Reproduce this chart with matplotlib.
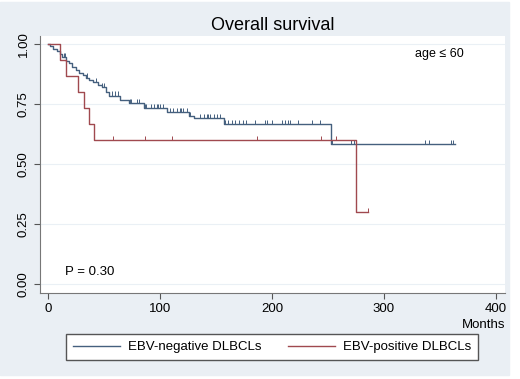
import numpy as np
import matplotlib.pyplot as plt
from matplotlib.patches import Rectangle

plt.rcParams['font.family'] = ['Liberation Sans', 'DejaVu Sans']

# EBV-negative: step times (months) and survival after each step
neg_t = [0, 2, 5, 8, 11, 13, 16, 19, 22, 25, 28, 31, 34, 37, 40, 45, 48, 52, 55,
         64, 72, 86, 106, 126, 130, 157, 253, 363]
neg_s = [1.0, 0.99, 0.98, 0.97, 0.96, 0.945, 0.93, 0.92, 0.905, 0.89, 0.88, 0.87,
         0.86, 0.85, 0.84, 0.83, 0.82, 0.80, 0.785, 0.767, 0.754, 0.733, 0.717,
         0.70, 0.69, 0.667, 0.583, 0.583]
neg_cens = [14, 15, 35, 43, 48, 50, 52, 57, 60, 63, 73, 74, 80, 81, 87, 88, 92, 95,
            97, 98, 100, 103, 106, 109, 112, 115, 118, 119, 121, 124, 127, 136,
            139, 142, 143, 145, 148, 151, 154, 158, 161, 164, 167, 171, 174, 177,
            185, 194, 196, 200, 209, 212, 214, 216, 223, 236, 243, 254, 271, 273,
            337, 340, 360, 362]

# EBV-positive
pos_t = [0, 11, 16, 27, 32, 37, 41, 275, 286]
pos_s = [1.0, 0.933, 0.867, 0.80, 0.733, 0.667, 0.60, 0.30, 0.30]
pos_cens = [58, 87, 111, 187, 244, 257, 286]

labels = ['EBV-negative DLBCLs', 'EBV-positive DLBCLs']
colors = ['#45607e', '#a0494f']

fig = plt.figure(figsize=(5.2, 3.79), dpi=100, facecolor='white')
fig.patches.append(Rectangle((0, 4 / 379), 509 / 520, 1 - 6 / 379,
                             transform=fig.transFigure, color='#eaeff4', zorder=-10))
ax = fig.add_axes([40 / 520, 1 - 293 / 379, 465 / 520, 257 / 379])
ax.set_facecolor('white')

handles = []
for t, s, cens, c, lab in [(neg_t, neg_s, neg_cens, colors[0], labels[0]),
                           (pos_t, pos_s, pos_cens, colors[1], labels[1])]:
    h, = ax.step(t, s, where='post', color=c, lw=1.0, label=lab)
    handles.append(h)
    idx = np.searchsorted(t, cens, side='right') - 1
    sv = np.array(s)[idx]
    ax.vlines(cens, sv, sv + 0.018, color=c, lw=0.7)

ax.set_xlim(-7, 408)
ax.set_ylim(-0.0375, 1.033)
ax.set_xticks([0, 100, 200, 300, 400])
ax.set_yticks([0, 0.25, 0.5, 0.75, 1.0])
ax.set_yticklabels(['0.00', '0.25', '0.50', '0.75', '1.00'], rotation=90, va='center')
ax.tick_params(labelsize=9.5, colors='#555555', labelcolor='black', length=4, width=0.8)
ax.grid(axis='y', color='#eaf0f5', lw=0.8)
ax.set_axisbelow(True)
for sp in ['top', 'right']:
    ax.spines[sp].set_visible(False)
for sp in ['left', 'bottom']:
    ax.spines[sp].set_color('#777777')
    ax.spines[sp].set_linewidth(0.8)

ax.set_title('Overall survival', fontsize=13, pad=4)
ax.text(1.0, -0.1, 'Months', transform=ax.transAxes, ha='right', va='top', fontsize=9.5)
ax.text(328, 0.96, 'age \u2264 60', fontsize=9, va='center')
ax.text(15, 0.05, 'P = 0.30', fontsize=9.5, va='center')

fig.legend(handles=handles, labels=labels, loc='center', ncol=2,
           bbox_to_anchor=(272 / 520, 1 - 347 / 379), fontsize=9.5,
           frameon=True, fancybox=False, edgecolor='#555555', framealpha=1,
           handlelength=3.6, handletextpad=0.6, columnspacing=2.0, borderpad=0.5)

fig.savefig('out.png', dpi=100, facecolor=fig.get_facecolor())
